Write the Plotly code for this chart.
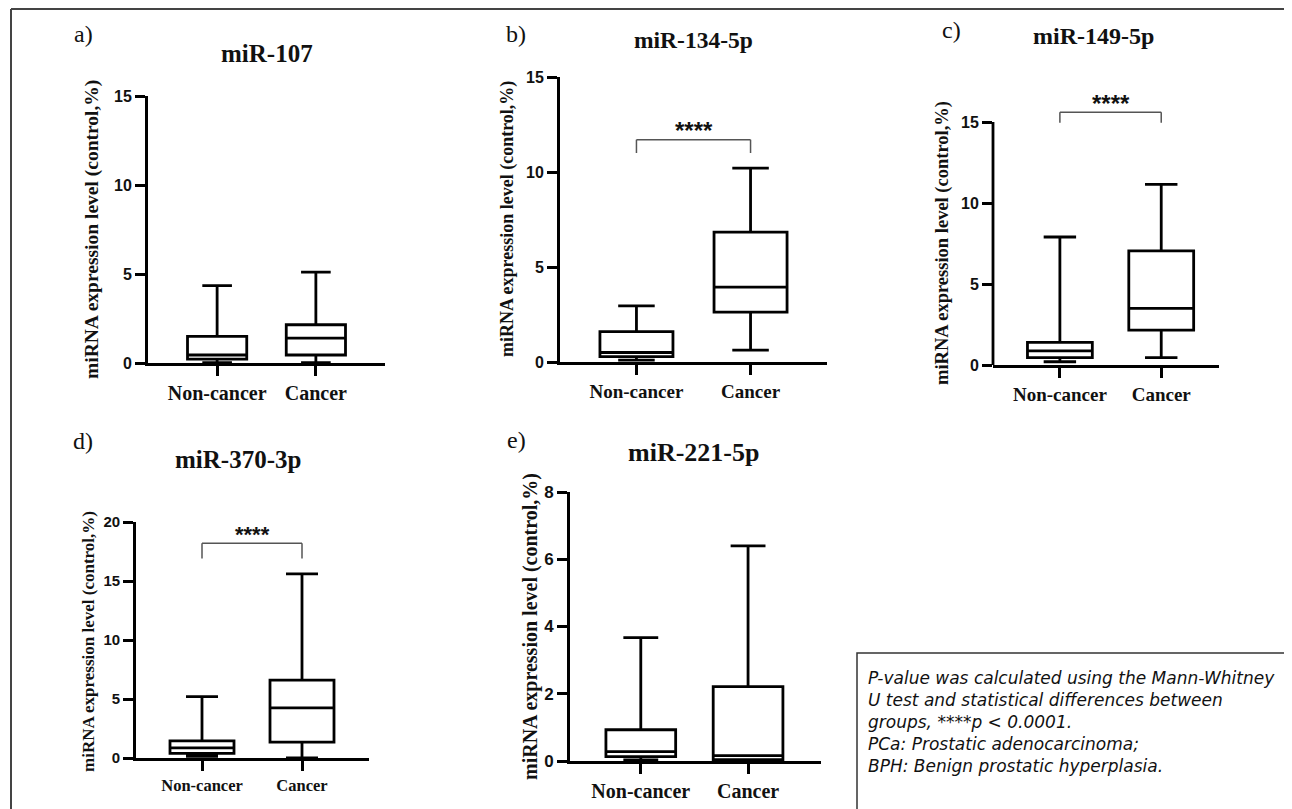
import plotly.graph_objects as go

W, H = 1292, 809
OFF = 8  # page body margin of the rendered html, compensated in paper coordinates

# ---------------- data ----------------
categories = ["Non-cancer", "Cancer"]
titles = ["miR-107", "miR-134-5p", "miR-149-5p", "miR-370-3p", "miR-221-5p"]
letters = ["a)", "b)", "c)", "d)", "e)"]
y_title = "miRNA expression level (control,%)"

# box statistics [Non-cancer, Cancer]
a_lower = [0.02, 0.02]
a_q1 = [0.22, 0.45]
a_median = [0.45, 1.40]
a_q3 = [1.50, 2.15]
a_upper = [4.35, 5.10]

b_lower = [0.10, 0.63]
b_q1 = [0.28, 2.62]
b_median = [0.50, 3.94]
b_q3 = [1.60, 6.84]
b_upper = [2.95, 10.20]

c_lower = [0.20, 0.45]
c_q1 = [0.45, 2.15]
c_median = [0.87, 3.50]
c_q3 = [1.40, 7.05]
c_upper = [7.90, 11.15]

d_lower = [0.15, 0.00]
d_q1 = [0.40, 1.35]
d_median = [0.85, 4.25]
d_q3 = [1.45, 6.60]
d_upper = [5.20, 15.60]

e_lower = [0.03, 0.00]
e_q1 = [0.13, 0.04]
e_median = [0.28, 0.16]
e_q3 = [0.93, 2.21]
e_upper = [3.67, 6.40]

a_yticks = [0, 5, 10, 15]
b_yticks = [0, 5, 10, 15]
c_yticks = [0, 5, 10, 15]
d_yticks = [0, 5, 10, 15, 20]
e_yticks = [0, 2, 4, 6, 8]

# significance brackets: (bracket height, leg end, star position)
b_sig = [11.7, 11.0, 12.2]
c_sig = [15.6, 14.95, 16.15]
d_sig = [18.2, 16.9, 18.95]
sig_label = "****"

note_lines = [
    "P-value was calculated using the Mann-Whitney",
    "U test and statistical differences between",
    "groups, ****p < 0.0001.",
    "PCa: Prostatic adenocarcinoma;",
    "BPH: Benign prostatic hyperplasia.",
]

# ---------------- layout geometry (pixels) ----------------
SERIF = "Liberation Serif, Times New Roman, serif"
SANS = "Liberation Sans, Arial, sans-serif"

panels = [
    dict(stats=(a_lower, a_q1, a_median, a_q3, a_upper), yticks=a_yticks, sig=None,
         xpx=(148, 385), y0px=363, ytoppx=96, ymax=15, axis_top=15, xr=[-0.70, 1.70], bw=0.60,
         tick_fs=16, cat_fs=20, ttl=(267, 53, 25), let=(83, 34), ytl=(92, 230, 19.5), star_fs=24),
    dict(stats=(b_lower, b_q1, b_median, b_q3, b_upper), yticks=b_yticks, sig=b_sig,
         xpx=(560, 827), y0px=362, ytoppx=77, ymax=15, axis_top=15, xr=[-0.67, 1.67], bw=0.64,
         tick_fs=16, cat_fs=19, ttl=(693, 40, 23.5), let=(516, 34), ytl=(508, 219, 18), star_fs=24),
    dict(stats=(c_lower, c_q1, c_median, c_q3, c_upper), yticks=c_yticks, sig=c_sig,
         xpx=(993, 1219), y0px=365, ytoppx=365 - 17 * (365 - 122) / 15, ymax=17, axis_top=15,
         xr=[-0.66, 1.57], bw=0.64,
         tick_fs=16, cat_fs=19, ttl=(1093, 36, 24), let=(951, 30), ytl=(943, 243, 18.5), star_fs=24),
    dict(stats=(d_lower, d_q1, d_median, d_q3, d_upper), yticks=d_yticks, sig=d_sig,
         xpx=(136, 369), y0px=758, ytoppx=522, ymax=20, axis_top=20, xr=[-0.66, 1.67], bw=0.64,
         tick_fs=15, cat_fs=16.5, ttl=(238, 460, 25), let=(83, 441), ytl=(88, 642, 17), star_fs=22),
    dict(stats=(e_lower, e_q1, e_median, e_q3, e_upper), yticks=e_yticks, sig=None,
         xpx=(570, 821), y0px=761, ytoppx=492, ymax=8, axis_top=8, xr=[-0.66, 1.68], bw=0.65,
         tick_fs=17, cat_fs=20, ttl=(693, 452, 26), let=(516, 440), ytl=(530, 627, 20), star_fs=24),
]


def px_x(px):
    return (px - OFF) / W


def px_y(py):
    return 1 - (py - OFF) / H


fig = go.Figure()
shapes = []
annotations = []

for i, p in enumerate(panels):
    n = "" if i == 0 else str(i + 1)
    xa, ya = "x" + n, "y" + n
    lower, q1, med, q3, upper = p["stats"]
    fig.add_trace(go.Box(
        x=categories, lowerfence=lower, q1=q1, median=med, q3=q3, upperfence=upper,
        xaxis=xa, yaxis=ya, fillcolor="white", line=dict(color="black", width=2.8),
        whiskerwidth=0.5, width=p["bw"], boxpoints=False, showlegend=False, hoverinfo="skip",
    ))
    ext_line = p["ymax"] != p["axis_top"]
    fig.update_layout(**{
        "xaxis" + n: dict(
            domain=[px_x(p["xpx"][0]), px_x(p["xpx"][1])], anchor=ya, type="category",
            range=p["xr"], showline=True, linecolor="black", linewidth=2.8,
            ticks="outside", ticklen=10, tickwidth=2.8, tickcolor="black",
            showgrid=False, zeroline=False, fixedrange=True, automargin=False,
            tickfont=dict(family=SERIF, size=p["cat_fs"], color="#111", weight="bold"),
        ),
        "yaxis" + n: dict(
            domain=[px_y(p["y0px"]), px_y(p["ytoppx"])], anchor=xa,
            range=[0, p["ymax"]], tickvals=p["yticks"], ticktext=[str(v) for v in p["yticks"]],
            showline=not ext_line, linecolor="black", linewidth=2.8,
            ticks="outside", ticklen=10, tickwidth=2.8, tickcolor="black",
            showgrid=False, zeroline=False, fixedrange=True, automargin=False,
            tickfont=dict(family=SANS, size=p["tick_fs"], color="#111", weight="bold"),
        ),
    })
    if ext_line:
        shapes.append(dict(type="line", xref=xa + " domain", yref=ya, x0=0, x1=0,
                           y0=0, y1=p["axis_top"], line=dict(color="black", width=2.8)))
    if p["sig"] is not None:
        top, leg, star = p["sig"]
        i0 = categories.index("Non-cancer")
        i1 = categories.index("Cancer")
        for (x0, y0, x1, y1) in [(i0, leg, i0, top), (i0, top, i1, top), (i1, top, i1, leg)]:
            shapes.append(dict(type="line", xref=xa, yref=ya, x0=x0, x1=x1, y0=y0, y1=y1,
                               line=dict(color="#555", width=1.5)))
        annotations.append(dict(xref=xa, yref=ya, x=(i0 + i1) / 2, y=star, text=sig_label,
                                showarrow=False, font=dict(family=SANS, size=p["star_fs"],
                                                           color="#111", weight="bold"),
                                xanchor="center", yanchor="middle"))
    tx, ty, tfs = p["ttl"]
    annotations.append(dict(xref="paper", yref="paper", x=px_x(tx), y=px_y(ty), text="<b>" + titles[i] + "</b>",
                            showarrow=False, xanchor="center", yanchor="middle",
                            font=dict(family=SERIF, size=tfs, color="#111")))
    lx, ly = p["let"]
    annotations.append(dict(xref="paper", yref="paper", x=px_x(lx), y=px_y(ly), text=letters[i],
                            showarrow=False, xanchor="center", yanchor="middle",
                            font=dict(family=SERIF, size=24, color="#111")))
    yx, yy, yfs = p["ytl"]
    annotations.append(dict(xref="paper", yref="paper", x=px_x(yx), y=px_y(yy), text="<b>" + y_title + "</b>",
                            showarrow=False, xanchor="center", yanchor="middle", textangle=-90,
                            font=dict(family=SERIF, size=yfs, color="#111")))

# outer frame (left and top edges); top edge kept just inside the figure
FRAME_TOP = OFF + 1
shapes.append(dict(type="line", xref="paper", yref="paper", x0=px_x(11), x1=px_x(11), y0=px_y(FRAME_TOP), y1=-0.05,
                   line=dict(color="#444", width=2)))
shapes.append(dict(type="line", xref="paper", yref="paper", x0=px_x(11), x1=1.05, y0=px_y(FRAME_TOP),
                   y1=px_y(FRAME_TOP), line=dict(color="#444", width=2)))
# note box
shapes.append(dict(type="rect", xref="paper", yref="paper", x0=px_x(857), x1=1.05, y0=-0.05, y1=px_y(653),
                   line=dict(color="#333", width=1.5), fillcolor="rgba(0,0,0,0)"))
annotations.append(dict(xref="paper", yref="paper", x=px_x(866), y=px_y(666), xanchor="left", yanchor="top",
                        align="left", showarrow=False, text="<i>" + "<br>".join(note_lines) + "</i>",
                        font=dict(family="DejaVu Sans, sans-serif", size=17, color="#111")))

fig.update_layout(
    template="none",
    width=W, height=H, margin=dict(l=0, r=0, t=0, b=0, pad=0), autosize=False,
    paper_bgcolor="white", plot_bgcolor="white",
    shapes=shapes, annotations=annotations, showlegend=False,
)

fig.write_html("out.html")
